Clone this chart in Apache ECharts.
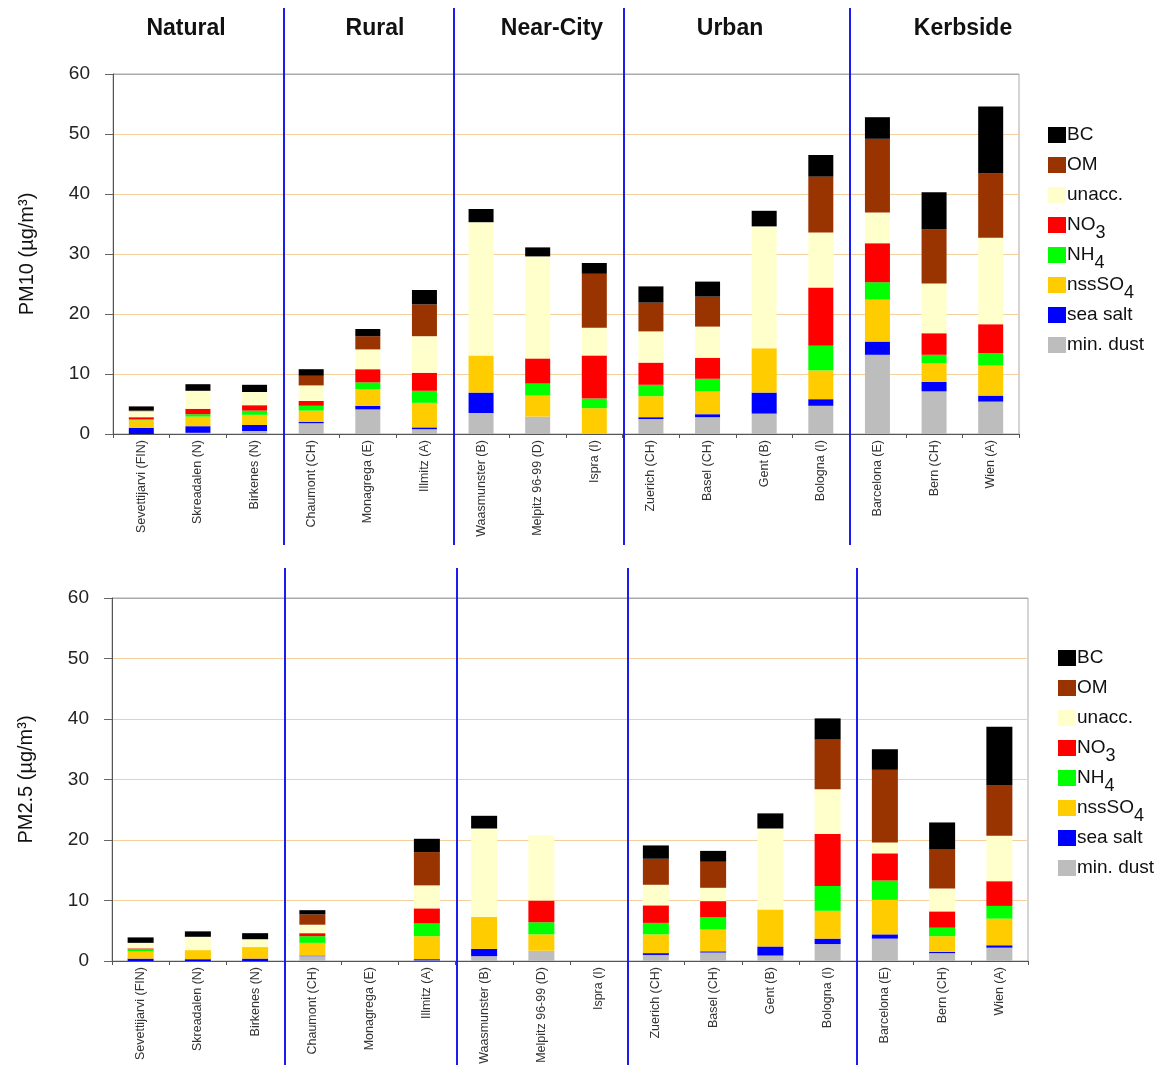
<!DOCTYPE html>
<html>
<head>
<meta charset="utf-8">
<title>PM10 / PM2.5 composition</title>
<script src="https://cdn.jsdelivr.net/npm/echarts@6/dist/echarts.min.js"></script>
<style>
html, body { margin: 0; padding: 0; background: #fff; }
#chart { width: 1175px; height: 1072px; }
</style>
</head>
<body>
<div id="chart"></div>
<script>
const sites = ['Sevettijarvi (FIN)', 'Skreadalen (N)', 'Birkenes (N)', 'Chaumont (CH)', 'Monagrega (E)', 'Illmitz (A)',
	'Waasmunster (B)', 'Melpitz 96-99 (D)', 'Ispra (I)', 'Zuerich (CH)', 'Basel (CH)', 'Gent (B)', 'Bologna (I)',
	'Barcelona (E)', 'Bern (CH)', 'Wien (A)'];
const groupNames = ['Natural', 'Rural', 'Near-City', 'Urban', 'Kerbside'];
const groupSizes = [3, 3, 3, 4, 3];

// stacking order, bottom to top
const components = ['min. dust', 'sea salt', 'nssSO4', 'NH4', 'NO3', 'unacc.', 'OM', 'BC'];
const compColors = ['#bdbdbd', '#0000ff', '#ffcc00', '#00ff00', '#ff0000', '#ffffcc', '#993300', '#000000'];

// PM10 (ug/m3)
const pm10Dust  = [0, 0.2, 0.5, 1.8, 4.1, 0.8, 3.5, 2.9, 0, 2.5, 2.8, 3.4, 4.7, 13.2, 7.1, 5.4];
const pm10Sea   = [1.0, 1.1, 1.0, 0.2, 0.6, 0.3, 3.4, 0, 0, 0.3, 0.5, 3.5, 1.1, 2.2, 1.6, 1.0];
const pm10SO4   = [1.3, 1.6, 1.7, 1.9, 2.8, 4.1, 6.2, 3.5, 4.3, 3.5, 3.8, 7.4, 4.8, 7.0, 3.1, 5.0];
const pm10NH4   = [0.2, 0.4, 0.7, 0.8, 1.1, 2.0, 0, 2.0, 1.6, 1.9, 2.1, 0, 4.1, 2.9, 1.4, 2.1];
const pm10NO3   = [0.3, 0.9, 0.9, 0.8, 2.2, 3.0, 0, 4.2, 7.2, 3.7, 3.5, 0, 9.7, 6.5, 3.6, 4.8];
const pm10Unacc = [1.0, 3.0, 2.2, 2.6, 3.3, 6.1, 22.2, 17.0, 4.6, 5.2, 5.2, 20.3, 9.2, 5.1, 8.3, 14.4];
const pm10OM    = [0.1, 0, 0, 1.6, 2.2, 5.3, 0, 0, 9.0, 4.8, 5.0, 0, 9.3, 12.3, 9.0, 10.7];
const pm10BC    = [0.7, 1.1, 1.2, 1.1, 1.2, 2.4, 2.2, 1.5, 1.8, 2.7, 2.5, 2.6, 3.6, 3.6, 6.2, 11.2];

// PM2.5 (ug/m3), null = no data
const pm25Dust  = [0, 0, 0, 0.8, null, 0.1, 0.8, 1.7, null, 1.0, 1.4, 0.9, 2.8, 3.7, 1.3, 2.2];
const pm25Sea   = [0.4, 0.3, 0.4, 0.1, null, 0.2, 1.2, 0, null, 0.3, 0.2, 1.5, 0.9, 0.7, 0.2, 0.4];
const pm25SO4   = [1.2, 1.5, 1.9, 2.1, null, 3.8, 5.3, 2.7, null, 3.1, 3.6, 6.1, 4.6, 5.7, 2.6, 4.4];
const pm25NH4   = [0.4, 0, 0, 1.1, null, 2.1, 0, 2.0, null, 1.9, 2.0, 0, 4.1, 3.2, 1.4, 2.1];
const pm25NO3   = [0.1, 0, 0, 0.5, null, 2.5, 0, 3.6, null, 2.9, 2.7, 0, 8.6, 4.5, 2.7, 4.1];
const pm25Unacc = [0.9, 2.2, 1.3, 1.4, null, 3.8, 14.6, 10.8, null, 3.4, 2.2, 13.4, 7.4, 1.8, 3.8, 7.5];
const pm25OM    = [0, 0, 0, 1.7, null, 5.5, 0, 0, null, 4.3, 4.3, 0, 8.2, 12.0, 6.5, 8.4];
const pm25BC    = [0.9, 0.9, 1.0, 0.7, null, 2.2, 2.1, 0, null, 2.2, 1.8, 2.5, 3.5, 3.4, 4.4, 9.6];

const pm10Rows = [pm10Dust, pm10Sea, pm10SO4, pm10NH4, pm10NO3, pm10Unacc, pm10OM, pm10BC];
const pm25Rows = [pm25Dust, pm25Sea, pm25SO4, pm25NH4, pm25NO3, pm25Unacc, pm25OM, pm25BC];

const font = '"Liberation Sans", Arial, sans-serif';
const chart = echarts.init(document.getElementById('chart'));

function xAxis(gi) {
	return {
		type: 'category', gridIndex: gi, data: sites,
		axisLine: { lineStyle: { color: '#555', width: 1 } },
		axisTick: { show: true, length: 4, lineStyle: { color: '#555' } },
		axisLabel: { rotate: 90, interval: 0, fontSize: 12.5, color: '#333', margin: 6, fontFamily: font }
	};
}
function yAxis(gi, name) {
	return {
		type: 'value', gridIndex: gi, min: 0, max: 60, interval: 10,
		name: name, nameLocation: 'middle', nameGap: 76,
		nameTextStyle: { fontSize: 20, color: '#111', fontFamily: font },
		axisLine: { show: true, lineStyle: { color: '#555', width: 1 } },
		axisTick: { show: true, length: 8, lineStyle: { color: '#666' } },
		axisLabel: { fontSize: 19, color: '#222', margin: 23, fontFamily: font },
		splitLine: { show: true, lineStyle: { color: ['#999', '#f3d19e', '#f3d19e', '#f3d19e', '#f3d19e', '#f3d19e', '#aaa'], width: 1 } }
	};
}
function legend(left, top) {
	return {
		orient: 'vertical', left: left, top: top, padding: 0,
		itemWidth: 18, itemHeight: 16, itemGap: -4,
		icon: 'rect', selectedMode: false,
		data: components.slice().reverse(),
		// every entry gets the same subscript token so all rows are equally tall
		formatter: n => /\d$/.test(n) ? n.replace(/(\d)$/, '{s|$1}') : n + '{s| }',
		textStyle: { fontSize: 19, color: '#111', lineHeight: 20, fontFamily: font, padding: [0, 0, 0, -4],
			rich: { s: { fontSize: 18, color: '#111', lineHeight: 20, fontFamily: font, padding: [16, 0, 0, 0] } } }
	};
}

const series = [];
[pm10Rows, pm25Rows].forEach((rows, gi) => {
	rows.forEach((vals, k) => {
		series.push({
			name: components[k], type: 'bar', stack: 'p' + gi,
			xAxisIndex: gi, yAxisIndex: gi,
			barWidth: gi === 0 ? 25 : 26,
			itemStyle: { color: compColors[k] },
			emphasis: { disabled: true },
			data: vals
		});
	});
});

chart.setOption({
	backgroundColor: '#fff',
	animation: false,
	grid: [
		{ left: 113, top: 74, width: 906, height: 360, show: true, borderColor: '#aaa', borderWidth: 1 },
		{ left: 112, top: 598, width: 916, height: 363, show: true, borderColor: '#aaa', borderWidth: 1 }
	],
	legend: [legend(1048, 118), legend(1058, 641)],
	xAxis: [xAxis(0), xAxis(1)],
	yAxis: [yAxis(0, 'PM10 (µg/m³)'), yAxis(1, 'PM2.5 (µg/m³)')],
	series: series
});

// group separators + titles
const titleX = [186, 375, 552, 730, 963];
function separators(xi, y1, y2) {
	const out = [];
	let idx = 0;
	for (let g = 0; g < groupSizes.length - 1; g++) {
		idx += groupSizes[g];
		const a = chart.convertToPixel({ xAxisIndex: xi }, sites[idx - 1]);
		const b = chart.convertToPixel({ xAxisIndex: xi }, sites[idx]);
		const x = Math.round((a + b) / 2) + 1;
		out.push({ type: 'line', silent: true, z: 100, shape: { x1: x, y1: y1, x2: x, y2: y2 }, style: { stroke: '#1c1cf0', lineWidth: 2 } });
	}
	return out;
}
const graphics = separators(0, 8, 545).concat(separators(1, 568, 1065));
groupNames.forEach((t, i) => {
	graphics.push({ type: 'text', x: titleX[i], y: 29, silent: true,
		style: { text: t, font: 'bold 23px ' + font, fill: '#111', textAlign: 'center', textVerticalAlign: 'middle' } });
});
chart.setOption({ graphic: graphics });
</script>
</body>
</html>
